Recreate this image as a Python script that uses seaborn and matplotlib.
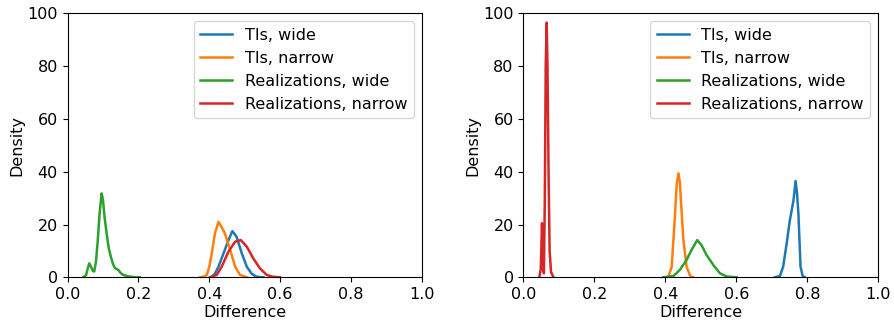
import matplotlib
matplotlib.use("Agg")
import matplotlib.pyplot as plt
import seaborn as sns

# curve points (x = difference, y = density)
# left panel
l_tis_wide_x = [0.405, 0.415, 0.426, 0.44, 0.454, 0.465, 0.477, 0.492, 0.506, 0.52, 0.534, 0.553]
l_tis_wide_y = [0.0, 1.2, 4.0, 9.0, 14.0, 17.5, 15.4, 9.0, 4.0, 1.3, 0.2, 0.0]

l_tis_narrow_x = [0.374, 0.385, 0.393, 0.400, 0.407, 0.416, 0.426, 0.435, 0.444, 0.459, 0.473, 0.487, 0.506]
l_tis_narrow_y = [0.0, 0.3, 0.9, 4.0, 9.0, 16.7, 21.0, 19.0, 16.7, 10.4, 4.0, 0.9, 0.0]

l_real_wide_x = [0.044, 0.052, 0.057, 0.061, 0.066, 0.071, 0.075, 0.08, 0.085, 0.09, 0.096, 0.1,
                 0.104, 0.11, 0.116, 0.122, 0.128, 0.134, 0.143, 0.15, 0.157, 0.17, 0.185, 0.204]
l_real_wide_y = [0.0, 0.8, 3.5, 5.3, 4.0, 2.4, 2.2, 6.0, 14.0, 24.0, 31.8, 29.0,
                 23.0, 16.7, 11.0, 7.8, 5.0, 3.4, 2.8, 1.6, 0.9, 0.4, 0.1, 0.0]

l_real_narrow_x = [0.402, 0.421, 0.435, 0.454, 0.473, 0.489, 0.506, 0.524, 0.543, 0.562, 0.58, 0.6]
l_real_narrow_y = [0.0, 0.9, 4.0, 9.7, 13.5, 14.1, 11.6, 7.2, 3.4, 0.9, 0.2, 0.0]

# right panel
r_tis_wide_x = [0.709, 0.723, 0.732, 0.742, 0.751, 0.761, 0.767, 0.771, 0.775, 0.781, 0.787, 0.793]
r_tis_wide_y = [0.0, 0.5, 4.0, 12.9, 21.7, 29.0, 36.5, 32.0, 24.0, 4.0, 0.5, 0.0]

r_tis_narrow_x = [0.408, 0.418, 0.427, 0.432, 0.437, 0.441, 0.444, 0.451, 0.46, 0.47, 0.479]
r_tis_narrow_y = [0.0, 4.0, 23.0, 35.0, 39.4, 36.0, 29.0, 14.0, 4.0, 0.5, 0.0]

r_real_wide_x = [0.394, 0.423, 0.441, 0.46, 0.474, 0.49, 0.502, 0.516, 0.535, 0.554, 0.573, 0.601]
r_real_wide_y = [0.0, 0.5, 2.8, 6.6, 10.4, 14.1, 12.2, 8.5, 4.7, 1.5, 0.3, 0.0]

r_real_narrow_x = [0.045, 0.049, 0.0526, 0.0555, 0.058, 0.0605, 0.063, 0.0657, 0.068, 0.071,
                   0.074, 0.078, 0.085]
r_real_narrow_y = [0.0, 3.0, 20.5, 3.0, 1.5, 30.0, 80.0, 96.5, 80.0, 40.0, 10.0, 2.0, 0.0]

labels = ["TIs, wide", "TIs, narrow", "Realizations, wide", "Realizations, narrow"]
colors = ["#1f77b4", "#ff7f0e", "#2ca02c", "#d62728"]

left = [(l_tis_wide_x, l_tis_wide_y), (l_tis_narrow_x, l_tis_narrow_y),
        (l_real_wide_x, l_real_wide_y), (l_real_narrow_x, l_real_narrow_y)]
right = [(r_tis_wide_x, r_tis_wide_y), (r_tis_narrow_x, r_tis_narrow_y),
         (r_real_wide_x, r_real_wide_y), (r_real_narrow_x, r_real_narrow_y)]

plt.rcParams["font.size"] = 11.5

fig = plt.figure(figsize=(8.94, 3.27), dpi=100)
ax1 = fig.add_axes([0.0757, 0.152, 0.396, 0.807])
ax2 = fig.add_axes([0.5854, 0.152, 0.397, 0.807])

for ax, curves in [(ax1, left), (ax2, right)]:
    for (x, y), lab, col in zip(curves, labels, colors):
        sns.lineplot(x=x, y=y, label=lab, color=col, linewidth=1.8, ax=ax)
    ax.set_xlim(0, 1)
    ax.set_ylim(0, 100)
    ax.set_xlabel("Difference", labelpad=2)
    ax.set_ylabel("Density", labelpad=2)
    ax.legend(loc="upper right")

plt.savefig("out.png", dpi=100)
